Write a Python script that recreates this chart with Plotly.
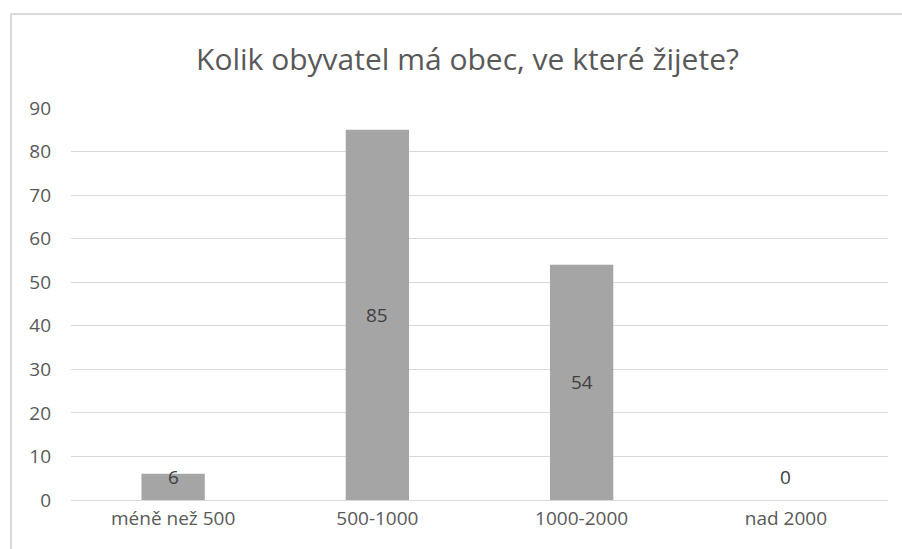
import plotly.graph_objects as go

categories = ["méně než 500", "500-1000", "1000-2000", "nad 2000"]
values = [6, 85, 54, 0]
y_ticks = [0, 10, 20, 30, 40, 50, 60, 70, 80, 90]

W, H = 902, 549
L, R, T, B = 71, 14, 108, 49
plot_w = W - L - R
plot_h = H - T - B

font_family = "'Open Sans', sans-serif"
text_grey = "#595959"

fig = go.Figure()
fig.add_trace(go.Bar(
    x=categories,
    y=values,
    marker=dict(color="#A5A5A5", line=dict(width=0)),
    width=0.31,
    hoverinfo="x+y",
))

# value labels centred in each bar, lifted so short bars still show them
for cat, v in zip(categories, values):
    fig.add_annotation(
        x=cat, y=max(v / 2, 5.3), text=str(v), showarrow=False,
        font=dict(family=font_family, size=19, color="#404040"),
        xanchor="center", yanchor="middle",
    )

# chart-area border (top and left edges visible)
def px_to_paper_x(px):
    return (px - L) / plot_w

def px_to_paper_y(py):
    return (H - B - py) / plot_h

fig.add_shape(
    type="rect", xref="paper", yref="paper",
    x0=px_to_paper_x(11), x1=px_to_paper_x(W + 10),
    y0=px_to_paper_y(H + 10), y1=px_to_paper_y(14),
    line=dict(color="#D9D9D9", width=2), fillcolor="rgba(0,0,0,0)",
    layer="below",
)

fig.update_layout(
    width=W, height=H,
    margin=dict(l=L, r=R, t=T, b=B),
    paper_bgcolor="white", plot_bgcolor="white",
    showlegend=False,
    bargap=0.69,
    title=dict(
        text="Kolik obyvatel má obec, ve které žijete?",
        x=(183 + 752) / 2 / W, xanchor="center",
        y=1 - 59 / H, yanchor="middle",
        font=dict(family=font_family, size=30, color=text_grey),
    ),
    font=dict(family=font_family, color=text_grey),
)
fig.update_xaxes(
    showgrid=False, showline=False, zeroline=False, ticks="",
    tickfont=dict(family=font_family, size=19, color=text_grey),
    ticklabelstandoff=5,
)
fig.update_yaxes(
    range=[0, 90], tickvals=y_ticks,
    showgrid=True, gridcolor="#D9D9D9", gridwidth=1,
    zeroline=True, zerolinecolor="#D9D9D9", zerolinewidth=1,
    showline=False, ticks="",
    tickfont=dict(family=font_family, size=19, color=text_grey),
    ticklabelstandoff=19,
)

fig.write_html("out.html")
